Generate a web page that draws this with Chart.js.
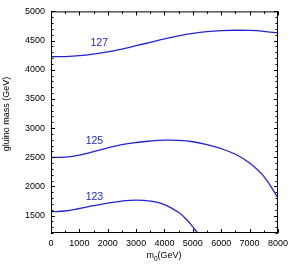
<!DOCTYPE html>
<html>
<head>
<meta charset="utf-8">
<script src="https://cdn.jsdelivr.net/npm/chart.js@4.4.1/dist/chart.umd.min.js"></script>
<style>
    body { margin: 0; background: #fff; }
    #wrap { width: 293px; height: 267px; }
</style>
</head>
<body>
<div id="wrap"><canvas id="chart"></canvas></div>
<script>
// m0 (GeV) sample points and gluino mass for each Higgs mass contour
const m0Long = [0, 500, 1000, 1500, 2000, 2500, 3000, 3500, 4000, 4500, 5000, 5500, 6000, 6500, 7000, 7500, 8000];
const contour127 = [4222, 4226, 4240, 4268, 4305, 4355, 4412, 4470, 4527, 4580, 4622, 4652, 4670, 4677, 4673, 4658, 4630];
const contour125 = [2495, 2502, 2535, 2595, 2660, 2715, 2752, 2778, 2793, 2790, 2765, 2715, 2645, 2550, 2400, 2170, 1800];
const m0Short = [0, 500, 1000, 1500, 2000, 2500, 3000, 3500, 4000, 4500, 4800, 5000, 5170];
const contour123 = [1565, 1577, 1620, 1668, 1712, 1748, 1764, 1748, 1688, 1550, 1420, 1305, 1200];

// contour labels: text, m0, gluino mass
const labelTexts = ['127', '125', '123'];
const labelX = [1700, 1530, 1530];
const labelY = [4450, 2783, 1822];

const xTicks = [0, 1000, 2000, 3000, 4000, 5000, 6000, 7000, 8000];
const yTicks = [1500, 2000, 2500, 3000, 3500, 4000, 4500, 5000];

const blue = '#2424d4';
const font = '"Liberation Sans", Arial, sans-serif';

const toPoints = (xs, ys) => xs.map((x, i) => ({ x, y: ys[i] }));

const curve = (data) => ({
    data,
    showLine: true,
    borderColor: blue,
    borderWidth: 1.3,
    pointRadius: 0,
    tension: 0.4,
    fill: false,
});

// frame, inward ticks on all sides, labels and axis titles
const framePlugin = {
    id: 'frame',
    afterDatasetsDraw(chart) {
        const { ctx, chartArea: a, scales } = chart;
        const xs = scales.x, ys = scales.y;
        ctx.save();
        ctx.strokeStyle = '#000';
        ctx.lineWidth = 1;
        ctx.strokeRect(a.left + 0.5, a.top + 0.5, a.right - a.left - 1, a.bottom - a.top - 1);

        ctx.beginPath();
        for (let v = xs.min; v <= xs.max; v += 500) {
            const len = v % 1000 === 0 ? 4 : 2.5;
            const px = Math.round(xs.getPixelForValue(v)) + 0.5;
            ctx.moveTo(px, a.bottom); ctx.lineTo(px, a.bottom - len);
            ctx.moveTo(px, a.top); ctx.lineTo(px, a.top + len);
        }
        for (let v = 1200; v <= ys.max; v += 100) {
            const len = v % 500 === 0 ? 4 : 2.5;
            const py = Math.round(ys.getPixelForValue(v)) + 0.5;
            ctx.moveTo(a.left, py); ctx.lineTo(a.left + len, py);
            ctx.moveTo(a.right, py); ctx.lineTo(a.right - len, py);
        }
        ctx.stroke();

        // contour labels
        ctx.fillStyle = blue;
        ctx.font = '10.5px ' + font;
        ctx.textAlign = 'center';
        ctx.textBaseline = 'middle';
        labelTexts.forEach((t, i) => {
            ctx.fillText(t, xs.getPixelForValue(labelX[i]), ys.getPixelForValue(labelY[i]));
        });

        // x title with subscript
        ctx.fillStyle = '#000';
        ctx.font = '9px ' + font;
        ctx.textAlign = 'left';
        const w1 = ctx.measureText('m').width;
        ctx.font = '6.5px ' + font;
        const w2 = ctx.measureText('0').width;
        ctx.font = '9px ' + font;
        const w3 = ctx.measureText('(GeV)').width;
        let tx = 164 - (w1 + w2 + w3) / 2;
        ctx.fillText('m', tx, 256);
        ctx.font = '6.5px ' + font;
        ctx.fillText('0', tx + w1, 259);
        ctx.font = '9px ' + font;
        ctx.fillText('(GeV)', tx + w1 + w2, 256);

        // y title
        ctx.translate(6.5, 114);
        ctx.rotate(-Math.PI / 2);
        ctx.textAlign = 'center';
        ctx.fillText('gluino mass (GeV)', 0, 0);
        ctx.restore();
    },
};

new Chart(document.getElementById('chart'), {
    type: 'scatter',
    data: {
        datasets: [
            curve(toPoints(m0Long, contour127)),
            curve(toPoints(m0Long, contour125)),
            curve(toPoints(m0Short, contour123)),
        ],
    },
    options: {
        responsive: true,
        maintainAspectRatio: false,
        animation: false,
        events: [],
        layout: { padding: { top: 5, right: 14, left: 0, bottom: 0 } },
        plugins: {
            legend: { display: false },
            tooltip: { enabled: false },
        },
        scales: {
            x: {
                type: 'linear',
                min: 0,
                max: 8000,
                afterFit: (s) => { s.height = 34; },
                afterBuildTicks: (s) => { s.ticks = xTicks.map(v => ({ value: v })); },
                grid: { display: false, drawTicks: false },
                border: { display: false },
                ticks: {
                    color: '#000',
                    padding: 5,
                    maxRotation: 0,
                    callback: (v) => String(v),
                    font: { family: font, size: 9 },
                },
            },
            y: {
                type: 'linear',
                min: 1200,
                max: 5000,
                afterFit: (s) => { s.width = 51; },
                afterBuildTicks: (s) => { s.ticks = yTicks.map(v => ({ value: v })); },
                grid: { display: false, drawTicks: false },
                border: { display: false },
                ticks: {
                    color: '#000',
                    padding: 6,
                    callback: (v) => String(v),
                    font: { family: font, size: 9 },
                },
            },
        },
    },
    plugins: [framePlugin],
});
</script>
</body>
</html>
